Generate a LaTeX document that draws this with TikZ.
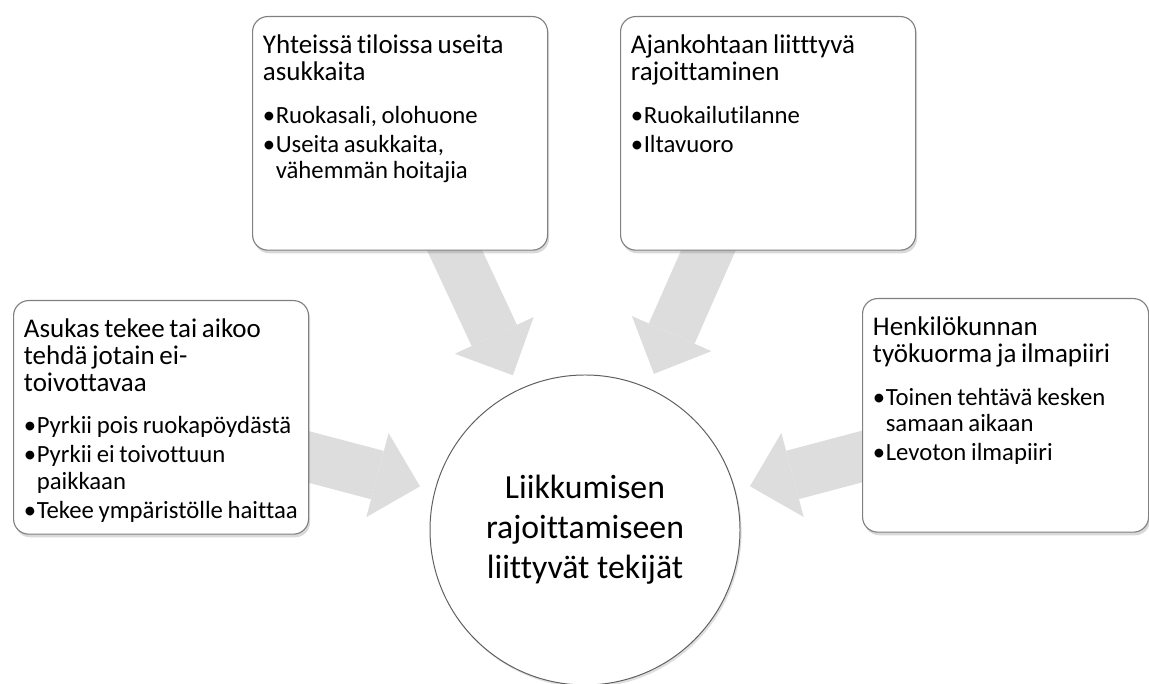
\documentclass[tikz,border=0pt]{standalone}
\usepackage{fontspec}
\setmainfont{Carlito}[Ligatures=NoCommon]
\usetikzlibrary{positioning,backgrounds,shadows,arrows.meta}
\definecolor{boxline}{RGB}{128,128,128}
\definecolor{arrowgrey}{RGB}{221,221,221}
\definecolor{ringline}{RGB}{95,95,95}
\newcommand{\headfont}{\fontsize{19.2}{19}\selectfont}
\newcommand{\itemfont}{\fontsize{17.6}{18.8}\selectfont}
\newcommand{\itm}[1]{\par\hangindent=0.32cm\hangafter=1\noindent\makebox[0.32cm][l]{•}#1}
\newcommand{\boxbody}[2]{\vbox to 5.3cm{\parindent=0pt\parskip=2pt\vskip0.12cm\headfont #1\par\vspace{9.5pt}\itemfont #2\par\vfil}}
\tikzset{
    factorbox/.style={
        draw=boxline,
        line width=0.8pt,
        fill=white,
        rounded corners=0.38cm,
        text width=#1,
        inner xsep=0.26cm,
        inner ysep=0.27cm,
        align=left,
        anchor=north west,
        drop shadow={shadow xshift=0.04cm, shadow yshift=-0.08cm, opacity=0.3}
    },
    factorbox/.default={6.855cm},
    hub/.style={
        circle,
        draw=ringline,
        line width=0.7pt,
        fill=white,
        minimum size=7.75cm,
        align=center,
        font=\fontsize{24}{28.5}\selectfont,
        drop shadow={shadow xshift=0.04cm, shadow yshift=-0.06cm, opacity=0.25}
    },
    feed/.style={
        draw=arrowgrey,
        line width=1.25cm,
        shorten <=-0.3cm,
        shorten >=0.38cm,
        -{Triangle[width=2.175cm, length=1.1cm, line width=0pt]}
    }
}

\begin{document}
\begin{tikzpicture}
    \useasboundingbox (0,0) rectangle (28.725,17.1);

    % keskus
    \node[hub] (liik) at (14.625,3.85) {Liikkumisen\\rajoittamiseen\\liittyvät tekijät};

    % tekijät
    \node[factorbox] (yhteis) at (6.3,16.7)
        {\boxbody{Yhteissä tiloissa useita\\asukkaita}
            {\itm{Ruokasali, olohuone}\itm{Useita asukkaita,\newline vähemmän hoitajia}}};
    \node[factorbox] (ajank) at (15.5,16.7)
        {\boxbody{Ajankohtaan liitttyvä\\rajoittaminen}
            {\itm{Ruokailutilanne}\itm{Iltavuoro}}};
    \node[factorbox] (asukas) at (0.325,9.6)
        {\boxbody{Asukas tekee tai aikoo\\tehdä jotain ei-\\toivottavaa}
            {\itm{Pyrkii pois ruokapöydästä}\itm{Pyrkii ei toivottuun\newline paikkaan}\itm{Tekee ympäristölle haittaa}}};
    \node[factorbox=6.63cm] (henk) at (21.55,9.65)
        {\boxbody{Henkilökunnan\\työkuorma ja ilmapiiri}
            {\itm{Toinen tehtävä kesken\newline samaan aikaan}\itm{Levoton ilmapiiri}}};

    % nuolet
    \begin{scope}[on background layer]
        \draw[feed] (asukas.-15) -- (liik);
        \draw[feed] (yhteis.-65) -- (liik);
        \draw[feed] (ajank.-117) -- (liik);
        \draw[feed] (henk.-164) -- (liik);
    \end{scope}
\end{tikzpicture}
\end{document}
